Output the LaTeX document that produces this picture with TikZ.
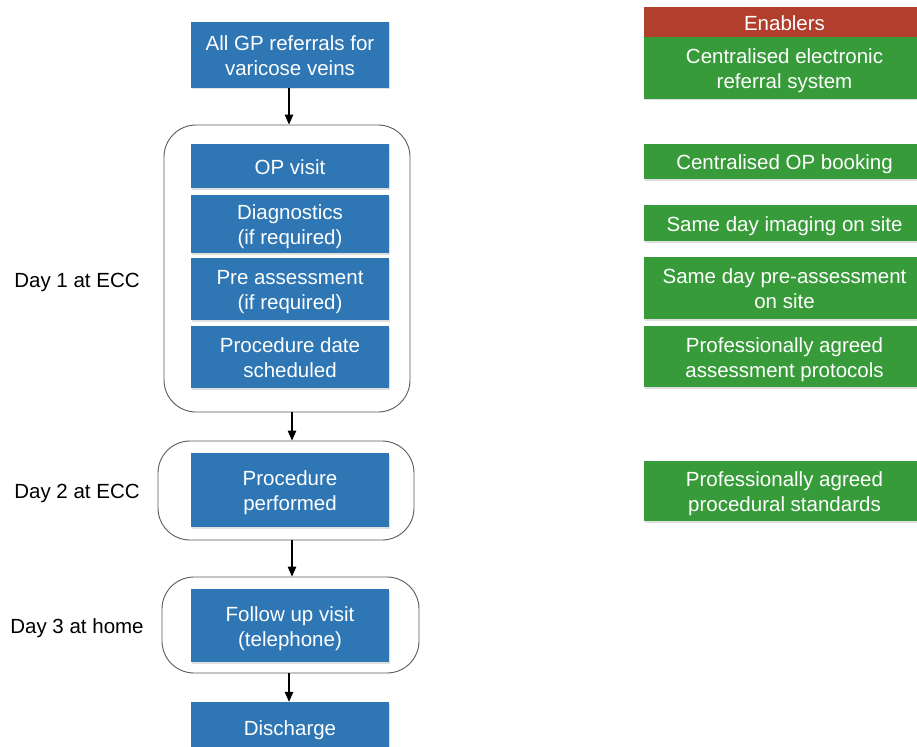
\documentclass[tikz,border=0pt]{standalone}
\usepackage{fontspec}
\setmainfont{Liberation Sans}
\usetikzlibrary{arrows.meta,shadows}
\definecolor{stepblue}{RGB}{46,118,180}
\definecolor{enablegreen}{RGB}{56,155,58}
\definecolor{headred}{RGB}{178,62,45}
\definecolor{groupline}{RGB}{90,90,90}
% invisible struts: fixed height for a first line, fixed depth for a last line
\newcommand\topstrut{\rule{0pt}{21.7pt}}
\newcommand\botstrut{\rule[-5pt]{0pt}{5pt}}
\tikzset{
  txt/.style={font=\fontsize{20.5}{25}\selectfont, align=center, inner sep=0pt},
  stepbox/.style={txt, fill=stepblue, text=white, minimum width=198pt,
    drop shadow={shadow xshift=1pt, shadow yshift=-1.5pt, opacity=0.25}},
  enabler/.style={txt, fill=enablegreen, text=white, minimum width=281pt,
    drop shadow={shadow xshift=1pt, shadow yshift=-1.5pt, opacity=0.25}},
  dayframe/.style={draw=groupline, line width=0.9pt, rounded corners=32pt, inner sep=0pt},
  flow/.style={-{Triangle[length=10pt,width=8.5pt]}, line width=1.2pt, black},
}
\begin{document}
\begin{tikzpicture}[x=1pt,y=-1pt]
\useasboundingbox (0,0) rectangle (917,746);
\clip (0,0) rectangle (917,746);

% day frames
\node[dayframe, minimum width=246pt, minimum height=287pt] (day1) at (287,268.5) {};
\node[dayframe, minimum width=256pt, minimum height=99pt] (day2) at (286,490.5) {};
\node[dayframe, minimum width=257pt, minimum height=96pt] (day3) at (290.5,625) {};

% pathway steps
\node[stepbox, minimum height=66pt] (gp) at (290,55) {\topstrut All GP referrals for\\varicose veins\botstrut};
\node[stepbox, minimum height=44pt] (op) at (290,166) {\topstrut OP visit\botstrut};
\node[stepbox, minimum height=58pt] (diag) at (290,224) {\topstrut Diagnostics\\(if required)\botstrut};
\node[stepbox, minimum height=62pt] (pre) at (290,289) {\topstrut Pre assessment\\(if required)\botstrut};
\node[stepbox, minimum height=62pt] (sched) at (290,357) {\topstrut Procedure date\\scheduled\botstrut};
\node[stepbox, minimum height=74pt] (perf) at (290,490) {\topstrut Procedure\\performed\botstrut};
\node[stepbox, minimum height=73pt] (follow) at (290,625.5) {\topstrut Follow up visit\\(telephone)\botstrut};
\node[stepbox, minimum height=50pt] (dis) at (290,727) {\topstrut Discharge\botstrut};

% day labels
\node[txt] (d1) at (77,279) {\topstrut Day 1 at ECC\botstrut};
\node[txt] (d2) at (77,490) {\topstrut Day 2 at ECC\botstrut};
\node[txt] (d3) at (77,625) {\topstrut Day 3 at home\botstrut};

% connectors
\draw[flow] (289,88) coordinate (a1) -- (a1 |- day1.north);
\draw[flow] (292,412) coordinate (a2) -- (a2 |- day2.north);
\draw[flow] (292,540) coordinate (a3) -- (a3 |- day3.north);
\draw[flow] (289,673) coordinate (a4) -- (a4 |- dis.north);

% enablers column
\node[txt, fill=headred, text=white, minimum width=281pt, minimum height=30pt] (head) at (784.5,22) {\topstrut Enablers\botstrut};
\node[enabler, minimum height=62pt] (e1) at (784.5,68) {\topstrut Centralised electronic\\referral system\botstrut};
\node[enabler, minimum height=35pt] (e2) at (784.5,161.5) {\topstrut Centralised OP booking\botstrut};
\node[enabler, minimum height=36pt] (e3) at (784.5,223) {\topstrut Same day imaging on site\botstrut};
\node[enabler, minimum height=62pt] (e4) at (784.5,288) {\topstrut Same day pre-assessment\\on site\botstrut};
\node[enabler, minimum height=61pt] (e5) at (784.5,356.5) {\topstrut Professionally agreed\\assessment protocols\botstrut};
\node[enabler, minimum height=60pt] (e6) at (784.5,491) {\topstrut Professionally agreed\\procedural standards\botstrut};
\end{tikzpicture}
\end{document}
